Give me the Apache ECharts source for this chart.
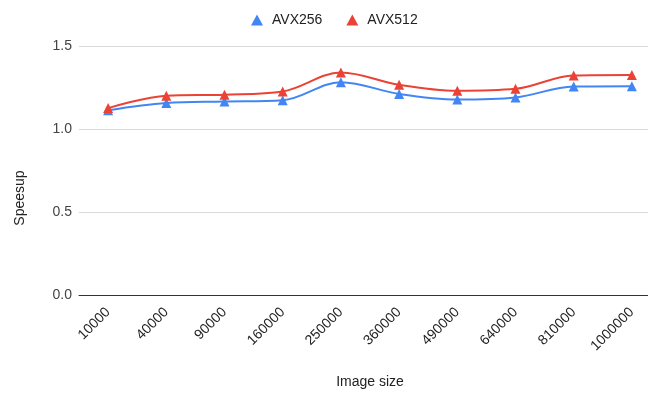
<!DOCTYPE html>
<html>
<head>
<meta charset="utf-8">
<script src="https://cdn.jsdelivr.net/npm/echarts@6/dist/echarts.min.js"></script>
<style>
  html, body { margin: 0; padding: 0; background: #fff; overflow: hidden; width: 648px; height: 394px; }
  #chart { width: 680px; height: 394px; }
</style>
</head>
<body>
<div id="chart"></div>
<script>
// Image sizes (pixels) tested
const categories = ['10000', '40000', '90000', '160000', '250000', '360000', '490000', '640000', '810000', '1000000'];

// Speedup over scalar code
const avx256 = [1.113, 1.157, 1.165, 1.173, 1.282, 1.211, 1.177, 1.190, 1.256, 1.258];
const avx512 = [1.126, 1.201, 1.207, 1.226, 1.340, 1.266, 1.230, 1.242, 1.323, 1.326];

const yTicks = [0, 0.5, 1.0, 1.5];

const chart = echarts.init(document.getElementById('chart'), null, { renderer: 'canvas' });
const font = 'Arial, "Liberation Sans", sans-serif';

chart.setOption({
  animation: false,
  textStyle: { fontFamily: font },
  legend: {
    top: 8,
    left: 246,
    itemGap: 24,
    itemWidth: 12,
    itemHeight: 11,
    icon: 'triangle',
    textStyle: { color: '#222', fontSize: 14, fontFamily: font, padding: [0, 0, 0, 4] },
    data: ['AVX256', 'AVX512']
  },
  // plot area runs slightly past the right edge of the visible page
  grid: { left: 79, right: 19, top: 46, bottom: 96 },
  xAxis: {
    type: 'category',
    data: categories,
    boundaryGap: true,
    name: 'Image size',
    nameLocation: 'middle',
    nameGap: 80,
    nameTextStyle: { color: '#222', fontSize: 14, fontFamily: font },
    axisLine: { lineStyle: { color: '#333', width: 1 } },
    axisTick: { show: false },
    axisLabel: { rotate: 45, color: '#222', fontSize: 14, margin: 15, interval: 0, fontFamily: font }
  },
  yAxis: {
    type: 'value',
    min: 0,
    max: yTicks[yTicks.length - 1],
    interval: 0.5,
    axisLine: { show: false },
    axisTick: { show: false },
    splitLine: { lineStyle: { color: '#d9d9d9', width: 1 } },
    axisLabel: {
      color: '#444', fontSize: 14, margin: 7, fontFamily: font,
      formatter: v => v.toFixed(1)
    }
  },
  graphic: [{
    type: 'text',
    rotation: Math.PI / 2,
    x: 20, y: 198,
    style: { text: 'Speesup', fill: '#222', font: '14px ' + font, textAlign: 'center', textVerticalAlign: 'middle' }
  }],
  series: [
    {
      name: 'AVX256',
      type: 'line',
      data: avx256,
      smooth: 0.35,
      symbol: 'triangle',
      symbolSize: 10,
      itemStyle: { color: '#4285f4' },
      lineStyle: { color: '#4285f4', width: 2 }
    },
    {
      name: 'AVX512',
      type: 'line',
      data: avx512,
      smooth: 0.35,
      symbol: 'triangle',
      symbolSize: 10,
      itemStyle: { color: '#ea4335' },
      lineStyle: { color: '#ea4335', width: 2 }
    }
  ]
});
</script>
</body>
</html>
